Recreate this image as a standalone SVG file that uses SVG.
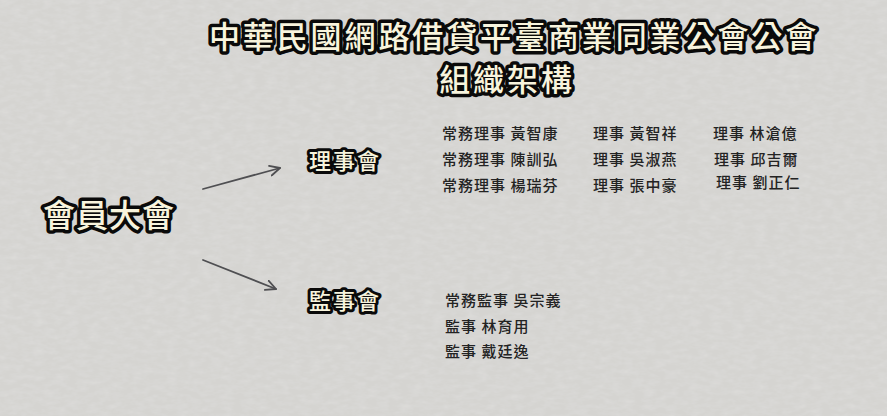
<svg xmlns="http://www.w3.org/2000/svg" width="887" height="416" viewBox="0 0 887 416">
<defs>
<filter id="paper" x="0" y="0" width="100%" height="100%">
<feTurbulence type="fractalNoise" baseFrequency="0.09 0.2" numOctaves="3" seed="4" result="n"/>
<feColorMatrix in="n" type="matrix" values="0 0 0 0 0.78  0 0 0 0 0.78  0 0 0 0 0.77  0 0 0 -0.7 0.45" result="c"/>
<feComposite in="c" in2="SourceGraphic" operator="over"/>
</filter>
<marker id="ah" viewBox="0 0 12 12" refX="11" refY="6" markerWidth="12" markerHeight="12" markerUnits="userSpaceOnUse" orient="auto">
<path d="M1,1 L11,6 L1,11" fill="none" stroke="#4f4f52" stroke-width="1.8" stroke-linecap="round" stroke-linejoin="round"/>
</marker>
<style>
.out{font-family:"Noto Sans CJK TC","Noto Sans CJK SC",sans-serif;font-weight:700;fill:#f8f4dd;stroke:#0a0a0a;stroke-linejoin:round;paint-order:stroke fill}
.title{font-size:31px;font-weight:500;stroke-width:7px;letter-spacing:2.9px}
.big{font-size:32px;font-weight:500;stroke-width:7px;letter-spacing:1px}
.mid{font-size:22px;font-weight:500;stroke-width:6px;letter-spacing:2px}
.mem{font-family:"Noto Sans CJK TC","Noto Sans CJK SC",sans-serif;font-weight:500;font-size:15px;fill:#232323;letter-spacing:1px}
.conn{fill:none;stroke:#4f4f52;stroke-width:1.8px;stroke-linecap:round}
</style>
</defs>
<rect width="887" height="416" fill="#d3d2cf"/>
<rect width="887" height="416" fill="#d5d4d1" filter="url(#paper)"/>

<g id="title">
<text class="out title" x="514" y="48" text-anchor="middle">中華民國網路借貸平臺商業同業公會公會</text>
<text class="out title" x="507" y="91" text-anchor="middle">組織架構</text>
</g>

<g id="connectors">
<line class="conn" x1="203" y1="189" x2="280" y2="168" marker-end="url(#ah)"/>
<line class="conn" x1="203" y1="260" x2="276" y2="289" marker-end="url(#ah)"/>
</g>

<g id="node-assembly">
<text class="out big" x="43" y="227">會員大會</text>
</g>

<g id="node-board">
<text class="out mid" x="309" y="169">理事會</text>
</g>

<g id="node-supervisors">
<text class="out mid" x="309" y="309">監事會</text>
</g>

<g id="board-members">
<text class="mem" x="442" y="139">常務理事 黃智康</text>
<text class="mem" x="442" y="165">常務理事 陳訓弘</text>
<text class="mem" x="442" y="191">常務理事 楊瑞芬</text>
<text class="mem" x="593" y="139">理事 黃智祥</text>
<text class="mem" x="593" y="165">理事 吳淑燕</text>
<text class="mem" x="593" y="191">理事 張中豪</text>
<text class="mem" x="713" y="139">理事 林滄億</text>
<text class="mem" x="714" y="165">理事 邱吉爾</text>
<text class="mem" x="716" y="188">理事 劉正仁</text>
</g>

<g id="supervisor-members">
<text class="mem" x="445" y="306">常務監事 吳宗義</text>
<text class="mem" x="445" y="332">監事 林育用</text>
<text class="mem" x="445" y="357">監事 戴廷逸</text>
</g>
</svg>
